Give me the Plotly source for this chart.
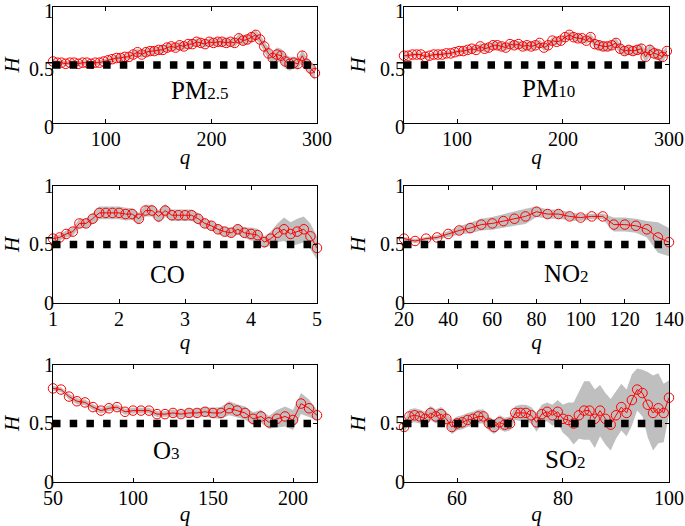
import plotly.graph_objects as go

FONT = "Liberation Serif"
RED = "#ff0000"
GRAY = "#bfbfbf"

# ---------------- data ----------------
pm25_q = [50, 54, 58, 62, 66, 70, 74, 78, 82, 86, 90, 94, 98, 102, 106, 110, 114, 118, 122, 126,
          130, 134, 138, 142, 146, 150, 154, 158, 162, 166, 170, 174, 178, 182, 186, 190, 194, 198,
          202, 206, 210, 214, 218, 222, 226, 230, 234, 238, 242, 246, 250, 254, 258, 262, 266, 270,
          274, 278, 282, 286, 290, 294, 298]
pm25_h = [0.53, 0.52, 0.52, 0.51, 0.52, 0.52, 0.51, 0.52, 0.52, 0.51, 0.52, 0.52, 0.53, 0.54, 0.55,
          0.56, 0.56, 0.57, 0.57, 0.59, 0.61, 0.59, 0.61, 0.62, 0.62, 0.63, 0.63, 0.65, 0.66, 0.65,
          0.67, 0.66, 0.68, 0.68, 0.70, 0.69, 0.68, 0.70, 0.69, 0.70, 0.70, 0.69, 0.70, 0.69, 0.73,
          0.71, 0.72, 0.74, 0.76, 0.72, 0.66, 0.60, 0.56, 0.59, 0.58, 0.53, 0.51, 0.52, 0.51, 0.58,
          0.51, 0.47, 0.43]
pm25_e = [0.02, 0.02, 0.02, 0.02, 0.02, 0.02, 0.02, 0.02, 0.02, 0.02, 0.02, 0.02, 0.02,
          0.02, 0.02, 0.025, 0.025, 0.025, 0.025, 0.03, 0.03, 0.03, 0.03, 0.03, 0.03, 0.03, 0.03,
          0.03, 0.03, 0.03, 0.03, 0.03, 0.03, 0.03, 0.03, 0.03, 0.03, 0.03, 0.03, 0.03, 0.03, 0.03,
          0.03, 0.035, 0.04, 0.04, 0.04, 0.04, 0.04, 0.04, 0.045, 0.05, 0.05, 0.06, 0.06, 0.06, 0.06,
          0.05, 0.05, 0.05, 0.06, 0.06, 0.06]

pm10_q = list(pm25_q)
pm10_h = [0.58, 0.58, 0.59, 0.59, 0.59, 0.57, 0.58, 0.59, 0.59, 0.59, 0.60, 0.60, 0.61, 0.62, 0.62,
          0.63, 0.64, 0.63, 0.66, 0.64, 0.65, 0.67, 0.67, 0.66, 0.65, 0.68, 0.67, 0.68, 0.66, 0.67,
          0.66, 0.67, 0.69, 0.65, 0.67, 0.71, 0.70, 0.71, 0.74, 0.76, 0.74, 0.73, 0.73, 0.71, 0.74,
          0.68, 0.67, 0.66, 0.66, 0.67, 0.69, 0.64, 0.62, 0.63, 0.62, 0.63, 0.64, 0.57, 0.63, 0.60,
          0.59, 0.57, 0.62]
pm10_e = [0.02, 0.02, 0.02, 0.02, 0.02, 0.02, 0.02, 0.02, 0.02, 0.02, 0.02, 0.02, 0.02,
          0.02, 0.025, 0.025, 0.025, 0.025, 0.03, 0.03, 0.03, 0.03, 0.03, 0.03, 0.03, 0.03, 0.03,
          0.03, 0.03, 0.03, 0.03, 0.03, 0.03, 0.03, 0.03, 0.03, 0.03, 0.03, 0.03, 0.03, 0.03, 0.03,
          0.03, 0.03, 0.035, 0.04, 0.04, 0.04, 0.04, 0.04, 0.04, 0.04, 0.04, 0.04, 0.04, 0.04, 0.05,
          0.05, 0.05, 0.05, 0.05, 0.05, 0.04]

co_q = [1.0, 1.1, 1.2, 1.3, 1.4, 1.5, 1.6, 1.7, 1.8, 1.9, 2.0, 2.1, 2.2, 2.3, 2.4, 2.5, 2.6, 2.7,
        2.8, 2.9, 3.0, 3.1, 3.2, 3.3, 3.4, 3.5, 3.6, 3.7, 3.8, 3.9, 4.0, 4.1, 4.2, 4.3, 4.4, 4.5,
        4.6, 4.7, 4.8, 4.9, 5.0]
co_h = [0.55, 0.56, 0.59, 0.61, 0.68, 0.68, 0.72, 0.77, 0.77, 0.77, 0.77, 0.76, 0.76, 0.72, 0.79,
        0.79, 0.74, 0.79, 0.75, 0.75, 0.75, 0.75, 0.72, 0.68, 0.66, 0.63, 0.61, 0.60, 0.63, 0.60,
        0.59, 0.58, 0.52, 0.55, 0.60, 0.63, 0.59, 0.61, 0.63, 0.57, 0.47]
co_e = [0.025, 0.025, 0.03, 0.035, 0.04, 0.04, 0.05, 0.055, 0.055, 0.055, 0.055, 0.055, 0.05, 0.05,
        0.05, 0.05, 0.055, 0.055, 0.05, 0.05, 0.05, 0.05, 0.05, 0.04, 0.04, 0.04, 0.04, 0.04, 0.045,
        0.045, 0.055, 0.055, 0.05, 0.06, 0.08, 0.10, 0.10, 0.11, 0.11, 0.11, 0.10]

no2_q = [20, 25, 30, 35, 40, 45, 50, 55, 60, 65, 70, 75, 80, 85, 90, 95, 100, 105, 110, 115, 120,
         125, 130, 135, 140]
no2_h = [0.55, 0.53, 0.55, 0.56, 0.59, 0.62, 0.64, 0.67, 0.68, 0.70, 0.72, 0.74, 0.78, 0.76, 0.76,
         0.74, 0.73, 0.74, 0.74, 0.67, 0.67, 0.66, 0.63, 0.56, 0.52]
no2_e = [0.015, 0.02, 0.015, 0.02, 0.025, 0.035, 0.045, 0.05, 0.055, 0.06, 0.06, 0.065, 0.045,
         0.04, 0.04, 0.035, 0.03, 0.025, 0.025, 0.06, 0.06, 0.06, 0.07, 0.13, 0.12]

o3_q = [50, 55, 60, 65, 70, 75, 80, 85, 90, 95, 100, 105, 110, 115, 120, 125, 130, 135, 140, 145,
        150, 155, 160, 165, 170, 175, 180, 185, 190, 195, 200, 205, 210, 215]
o3_h = [0.80, 0.79, 0.73, 0.69, 0.68, 0.64, 0.61, 0.63, 0.64, 0.60, 0.61, 0.61, 0.61, 0.58, 0.58,
        0.59, 0.58, 0.59, 0.59, 0.60, 0.59, 0.59, 0.63, 0.61, 0.59, 0.54, 0.56, 0.51, 0.54, 0.56,
        0.53, 0.67, 0.63, 0.57]
o3_e = [0.02, 0.02, 0.025, 0.025, 0.025, 0.025, 0.025, 0.025, 0.025, 0.025, 0.025, 0.025, 0.025,
        0.025, 0.025, 0.03, 0.03, 0.035, 0.035, 0.04, 0.045, 0.05, 0.06, 0.055, 0.055, 0.055, 0.055,
        0.055, 0.075, 0.085, 0.085, 0.09, 0.075, 0.045]

so2_q = [50, 51, 52, 53, 54, 55, 56, 57, 58, 59, 60, 61, 62, 63, 64, 65, 66, 67, 68, 69, 70, 71,
         72, 73, 74, 75, 76, 77, 78, 79, 80, 81, 82, 83, 84, 85, 86, 87, 88, 89, 90, 91, 92, 93,
         94, 95, 96, 97, 98, 99, 100]
so2_h = [0.47, 0.56, 0.57, 0.56, 0.54, 0.59, 0.56, 0.58, 0.54, 0.47, 0.50, 0.51, 0.53, 0.54, 0.56,
         0.56, 0.50, 0.47, 0.51, 0.49, 0.50, 0.59, 0.59, 0.59, 0.57, 0.51, 0.58, 0.60, 0.57, 0.60,
         0.54, 0.53, 0.50, 0.57, 0.61, 0.61, 0.54, 0.61, 0.54, 0.49, 0.57, 0.64, 0.59, 0.70, 0.79,
         0.76, 0.66, 0.59, 0.63, 0.59, 0.72]
so2_e = [0.05, 0.06, 0.06, 0.06, 0.06, 0.06, 0.06, 0.06, 0.06, 0.06, 0.06, 0.06, 0.06, 0.06, 0.06,
         0.06, 0.06, 0.06, 0.06, 0.06, 0.06, 0.06, 0.07, 0.07, 0.07, 0.08, 0.08, 0.08, 0.09, 0.10,
         0.12, 0.15, 0.18, 0.20, 0.25, 0.25, 0.25, 0.22, 0.22, 0.22, 0.20, 0.20, 0.20, 0.22, 0.18,
         0.20, 0.28, 0.32, 0.30, 0.25, 0.15]

panels = [
    dict(q=pm25_q, h=pm25_h, e=pm25_e, xr=[50, 300], tv=[100, 200, 300],
         label="PM<span style='font-size:17px'>2.5</span>", lx=0.553, ly=0.28),
    dict(q=pm10_q, h=pm10_h, e=pm10_e, xr=[50, 300], tv=[100, 200, 300],
         label="PM<span style='font-size:17px'>10</span>", lx=0.547, ly=0.30),
    dict(q=co_q, h=co_h, e=co_e, xr=[1, 5], tv=[1, 2, 3, 4, 5],
         label="CO", lx=0.434, ly=0.24),
    dict(q=no2_q, h=no2_h, e=no2_e, xr=[20, 140], tv=[20, 40, 60, 80, 100, 120, 140],
         label="NO<span style='font-size:17px'>2</span>", lx=0.615, ly=0.25),
    dict(q=o3_q, h=o3_h, e=o3_e, xr=[50, 215], tv=[50, 100, 150, 200],
         label="O<span style='font-size:17px'>3</span>", lx=0.428, ly=0.27),
    dict(q=so2_q, h=so2_h, e=so2_e, xr=[50, 100], tv=[60, 80, 100],
         label="SO<span style='font-size:17px'>2</span>", lx=0.607, ly=0.195),
]

col_dom = [[0.0774, 0.4628], [0.5898, 0.9766]]
row_dom = [[0.7662, 0.9867], [0.4240, 0.6464], [0.0837, 0.3061]]
row_shift = [4, 0, 0]

fig = go.Figure()
layout = dict(
    width=685, height=526, margin=dict(l=0, r=0, t=0, b=0, autoexpand=False),
    paper_bgcolor="white", plot_bgcolor="white", showlegend=False,
    font=dict(family=FONT, color="black"),
    annotations=[],
)

for i, p in enumerate(panels):
    k = i + 1
    xs = "x" if k == 1 else f"x{k}"
    ys = "y" if k == 1 else f"y{k}"
    xa = "xaxis" if k == 1 else f"xaxis{k}"
    ya = "yaxis" if k == 1 else f"yaxis{k}"
    r, c = divmod(i, 2)
    q, h, e = p["q"], p["h"], p["e"]
    upper = [a + b for a, b in zip(h, e)]
    lower = [a - b for a, b in zip(h, e)]
    fig.add_trace(go.Scatter(x=list(q) + list(q)[::-1], y=upper + lower[::-1],
                             fill="toself", fillcolor=GRAY, mode="lines",
                             line=dict(width=0, color=GRAY), hoverinfo="skip",
                             xaxis=xs, yaxis=ys))
    fig.add_trace(go.Scatter(x=q, y=h, mode="lines+markers", cliponaxis=False,
                             line=dict(color=RED, width=1),
                             marker=dict(symbol="circle-open", size=9.5, color=RED,
                                         line=dict(width=1, color=RED)),
                             xaxis=xs, yaxis=ys))
    fig.add_trace(go.Scatter(x=p["xr"], y=[0.5, 0.5], mode="lines",
                             line=dict(color="black", width=7.5, dash="7.5px,9.2px"),
                             xaxis=xs, yaxis=ys))
    axcommon = dict(showline=True, linecolor="black", linewidth=1, mirror="ticks",
                    ticks="inside", ticklen=4, tickcolor="black", tickwidth=1,
                    showgrid=False, zeroline=False, automargin=False,
                    ticklabeloverflow="allow",
                    tickfont=dict(family=FONT, size=20, color="black"))
    layout[xa] = dict(axcommon, domain=col_dom[c], range=p["xr"], tickvals=p["tv"],
                      anchor=ys, ticklabelstandoff=-2,
                      title=dict(text="q", standoff=0,
                                 font=dict(family=FONT, size=21, style="italic")))
    layout[ya] = dict(axcommon, domain=row_dom[r], range=[0, 1], tickvals=[0, 0.5, 1],
                      ticktext=["0", "0.5", "1"], anchor=xs, ticklabelstandoff=-6,
                      ticklabelshift=row_shift[r],
                      title=dict(text="H", standoff=8,
                                 font=dict(family=FONT, size=21, style="italic")))
    layout["annotations"].append(dict(
        text=p["label"], xref=f"{xs} domain", yref=f"{ys} domain",
        x=p["lx"], y=p["ly"], xanchor="center", yanchor="middle", showarrow=False,
        font=dict(family=FONT, size=25, color="black")))

fig.update_layout(**layout)
fig.write_html("out.html", config={"displayModeBar": False},
               post_script="document.body.style.margin='0';document.body.style.overflow='hidden';")
